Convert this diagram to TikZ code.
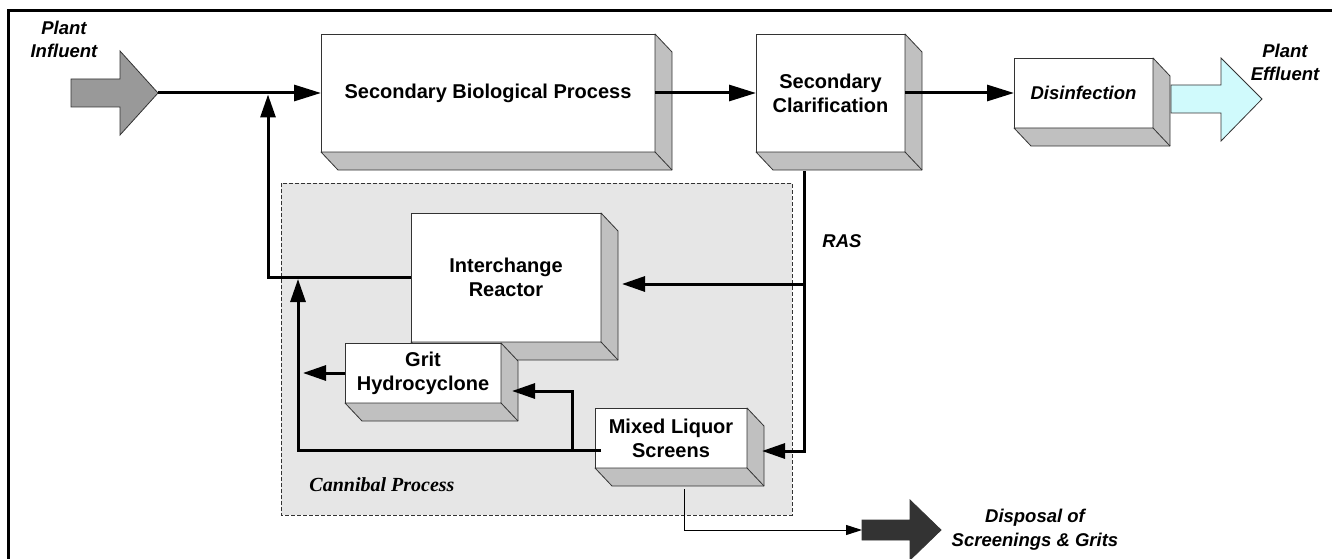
\documentclass[tikz,border=0pt]{standalone}
\usepackage{fontspec}
\setmainfont{Liberation Sans}
\newfontfamily\captionserif{Liberation Serif}
\usetikzlibrary{arrows.meta}

\definecolor{sidegray}{RGB}{192,192,192}
\definecolor{edgegray}{RGB}{51,51,51}
\definecolor{panelgray}{RGB}{230,230,230}
\definecolor{inflow}{RGB}{153,153,153}
\definecolor{outflow}{RGB}{208,250,252}
\definecolor{waste}{RGB}{51,51,51}

% side and bottom faces of a raised unit box
\newcommand\drawdepth[1]{%
  \filldraw[draw=edgegray, line width=0.8pt, fill=sidegray, line join=round]
    (#1.north east) -- ([shift={(17,18)}]#1.north east)
    -- ([shift={(17,18)}]#1.south east) -- ([shift={(17,18)}]#1.south west)
    -- (#1.south west) -- (#1.south east) -- cycle;
  \draw[edgegray, line width=0.8pt] (#1.south east) -- ([shift={(17,18)}]#1.south east);
}

\begin{document}
\begin{tikzpicture}[x=1pt, y=-1pt,
  unit/.style={draw=edgegray, line width=0.8pt, fill=white, rectangle,
    inner sep=0pt, outer sep=0pt, anchor=north west, align=center,
    font=\bfseries\fontsize{20}{24}\selectfont},
  lab/.style={inner sep=0pt, align=center,
    font=\bfseries\itshape\fontsize{18.5}{23}\selectfont},
  mainflow/.style={line width=3pt, -{Triangle[length=27pt,width=16pt]}},
  flow/.style={line width=3pt, -{Triangle[length=23pt,width=15pt]}},
  thinflow/.style={line width=1pt, -{Triangle[length=16pt,width=10pt]}},
  bigarrow/.style={line width=0.8pt, line join=miter}
]
\useasboundingbox (0,0) rectangle (1332,559);
\clip (0,0) rectangle (1332,559);

% outer frame
\draw[line width=3pt] (8.7,600) -- (8.7,10.5) -- (1400,10.5);

% cannibal process panel
\filldraw[fill=panelgray, draw=edgegray, line width=0.8pt, dash pattern=on 4pt off 2pt]
  (281,183) rectangle (792,515);
\node[inner sep=0pt, font=\captionserif\bfseries\itshape\fontsize{20}{22}\selectfont]
  (cannibal) at (382,485) {Cannibal Process};

% inflow and outflow arrows
\filldraw[bigarrow, draw=edgegray, fill=inflow]
  (71,79) -- (120,79) -- (120,51) -- (158,93) -- (120,135) -- (120,107) -- (71,107) -- cycle;
\coordinate (inftip) at (158,93);
\filldraw[bigarrow, draw=edgegray, fill=outflow]
  (1171,85) -- (1221,85) -- (1221,58) -- (1262,99) -- (1221,141) -- (1221,113) -- (1171,113) -- cycle;
\filldraw[bigarrow, draw=waste, fill=waste]
  (862,520) -- (910,520) -- (910,500) -- (941,530) -- (910,560) -- (910,540) -- (862,540) -- cycle;
\coordinate (disptail) at (862,530);

% labels
\node[lab] (influentlab) at (64,39) {Plant\\Influent};
\node[lab] (effluentlab) at (1285,62.5) {Plant\\Effluent};
\node[lab] (raslab) at (842,241) {RAS};
\node[lab, font=\bfseries\itshape\fontsize{18.5}{24}\selectfont] (disposallab) at (1035,530) {Disposal of\\Screenings \& Grits};

% process units
\node[unit, minimum width=334pt, minimum height=118pt] (sbp) at (321,34) {Secondary Biological Process};
\drawdepth{sbp}
\node[unit, minimum width=149pt, minimum height=118pt] (clar) at (756,34) {Secondary\\Clarification};
\drawdepth{clar}
\node[unit, minimum width=139pt, minimum height=70pt, font=\bfseries\itshape\fontsize{18.5}{22}\selectfont] (dis) at (1014,58) {Disinfection};
\drawdepth{dis}
\node[unit, minimum width=190pt, minimum height=129pt] (icr) at (411,213) {Interchange\\Reactor};
\drawdepth{icr}
\node[unit, minimum width=156pt, minimum height=60pt] (grit) at (345,343) {Grit\\Hydrocyclone};
\drawdepth{grit}
\node[unit, minimum width=152pt, minimum height=60pt] (mls) at (595,408) {Mixed Liquor\\Screens};
\drawdepth{mls}

% junction points of the piping
\coordinate (join) at (268,94.5);
\coordinate (rastop) at (804,171);
\coordinate (rasbend) at (804,451);
\coordinate (rasmid) at (804,284);
\coordinate (icrin) at (622,284);
\coordinate (mlsin) at (762,451);
\coordinate (mlsout) at (601,450);
\coordinate (retcorner) at (298,450);
\coordinate (retup) at (298,279);
\coordinate (gritbranch) at (572,450);
\coordinate (gritbend) at (572,391);
\coordinate (gritin) at (512,391);
\coordinate (gritout) at (303,373);
\coordinate (scrout) at (684,489);
\coordinate (scrbend) at (684,530);

% main line
\draw[mainflow] (inftip) -- (sbp.west);
\draw[mainflow] (sbp.east) -- (clar.west);
\draw[mainflow] (clar.east) -- (dis.west);

% interchange reactor return
\draw[flow] (icr.west) -| (join);

% return activated sludge
\draw[flow, line join=miter] (rastop) -- (rasbend) -- (mlsin);
\draw[flow] (rasmid) -- (icrin);

% screens and hydrocyclone
\draw[flow, line join=miter] (mlsout) -- (retcorner) -- (retup);
\draw[flow, line join=miter] (gritbranch) -- (gritbend) -- (gritin);
\draw[flow] (grit.west) -- (gritout);

% screenings and grit disposal
\draw[thinflow] (scrout) -- (scrbend) -- (disptail);
\end{tikzpicture}
\end{document}
